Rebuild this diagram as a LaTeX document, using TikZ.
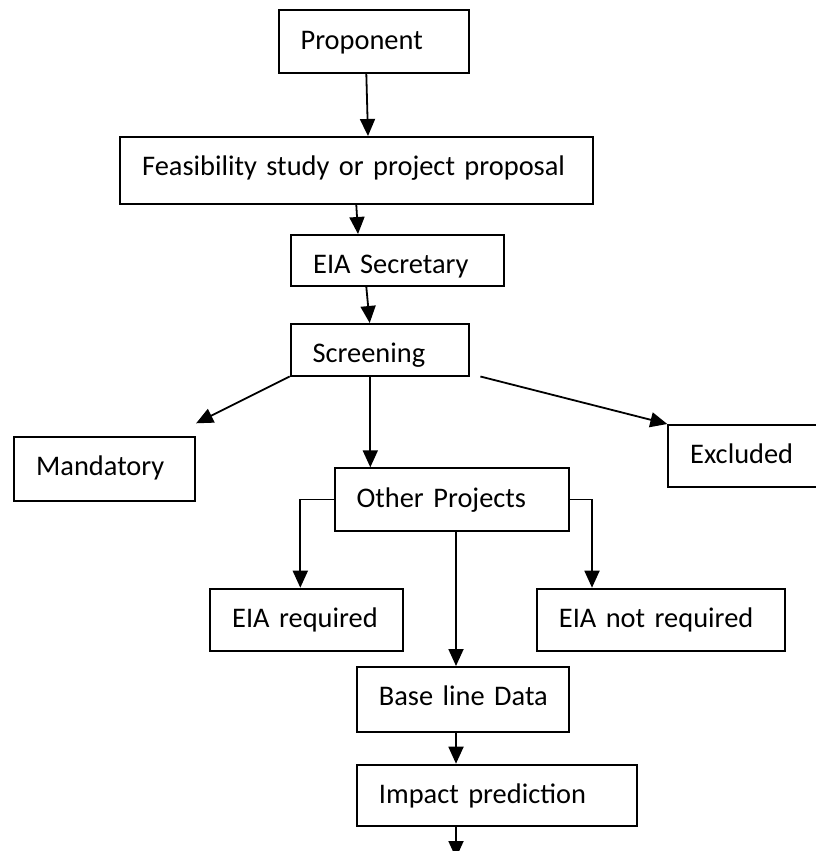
\documentclass[tikz,border=0pt]{standalone}
\usepackage{fontspec}
\setmainfont{Carlito}
\usetikzlibrary{arrows.meta}

\begin{document}
\begin{tikzpicture}[x=0.5pt,y=-0.5pt,>={Triangle[length=8.5pt,width=7.5pt]},
			every node/.style={font=\fontsize{14.2}{17}\selectfont},
			stage/.style={draw,line width=0.9pt,anchor=north west,inner xsep=11pt,
				inner ysep=0pt,text height=19.5pt,align=left,
				execute at begin node=\hbox\bgroup,execute at end node=\egroup},
			flow/.style={->,line width=0.9pt}]

		\useasboundingbox (0,0) rectangle (815,851);

		\node [stage, text width=73.15pt, text depth=11.7pt] (prop) at (277.7,9.3) {Proponent};
		\node [stage, text width=214.35pt, text depth=14.15pt] (feas) at (119.3,136) {Feasibility study or project proposal};
		\node [stage, text width=84.35pt, text depth=6pt] (secr) at (290.3,234) {EIA Secretary};
		\node [stage, text width=67.15pt, text depth=6.35pt] (scr) at (289.7,323) {Screening};
		\node [stage, text width=68.5pt, text depth=12.65pt] (mand) at (13.3,435.7) {Mandatory};
		\node [stage, text width=63pt, text depth=11.35pt] (excl) at (667.3,424) {Excluded};
		\node [stage, text width=95.15pt, text depth=11.7pt] (other) at (333.7,467.3) {Other Projects};
		\node [stage, text width=74.35pt, text depth=11.5pt] (req) at (209.3,587.7) {EIA required};
		\node [stage, text width=102pt, text depth=11.5pt] (notreq) at (536,587.7) {EIA not required};
		\node [stage, text width=84pt, text depth=13.15pt] (base) at (356,666) {Base line Data};
		\node [stage, text width=118.15pt, text depth=11.3pt] (impact) at (356,763.7) {Impact prediction};
		\coordinate (next) at (456,858);

		\draw [flow] (prop.south -| 366.3,0) -- (feas.north -| 368,0);
		\draw [flow] (feas.south -| 356.3,0) -- (secr.north -| 358,0);
		\draw [flow] (secr.south -| 366.3,0) -- (scr.north -| 369.7,0);
		\draw [flow] (scr.south west) -- ([yshift=6.2pt]mand.north east);
		\draw [flow] ([xshift=5.3pt]scr.south east) -- (excl.north west);
		\draw [flow] (scr.south -| 370.3,0) -- (other.north -| 370.3,0);
		\draw [flow] (other.west) -| (req.north -| 300.3,0);
		\draw [flow] (other.east) -| (notreq.north -| 592,0);
		\draw [flow] (other.south -| 456,0) -- (base.north -| 456,0);
		\draw [flow] (base.south -| 456,0) -- (impact.north -| 456,0);
		\draw [flow] (impact.south -| 456,0) -- (next);

\end{tikzpicture}
\end{document}
